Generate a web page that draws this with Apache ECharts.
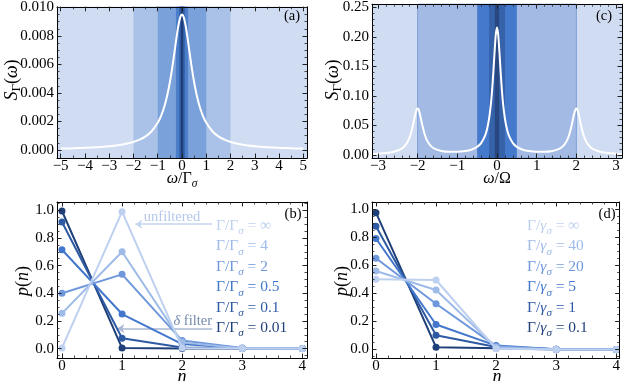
<!DOCTYPE html>
<html><head><meta charset="utf-8">
<script src="https://cdn.jsdelivr.net/npm/echarts@6/dist/echarts.min.js"></script>
<style>html,body{margin:0;padding:0;background:#fff}#c{width:623px;height:381px}</style>
</head><body><div id="c"></div>
<script>
// ---------------- data ----------------
// (a) filtered spectrum, omega / Gamma_sigma
const aX = [-5,-4.5,-4,-3.5,-3,-2.5,-2,-1.75,-1.5,-1.25,-1,-0.9,-0.8,-0.7,-0.6,-0.5,-0.4,-0.3,-0.25,-0.2,-0.15,-0.1,-0.05,0,0.05,0.1,0.15,0.2,0.25,0.3,0.4,0.5,0.6,0.7,0.8,0.9,1,1.25,1.5,1.75,2,2.5,3,3.5,4,4.5,5];
const aS = [0.000094,0.000116,0.000146,0.00019,0.000257,0.000365,0.000559,0.000717,0.00095,0.00131,0.0019,0.00224,0.00267,0.00321,0.00389,0.00475,0.00579,0.00699,0.0076,0.00819,0.00872,0.00913,0.00941,0.0095,0.00941,0.00913,0.00872,0.00819,0.0076,0.00699,0.00579,0.00475,0.00389,0.00321,0.00267,0.00224,0.0019,0.00131,0.00095,0.000717,0.000559,0.000365,0.000257,0.00019,0.000146,0.000116,0.000094];
const aBands = [2, 1, 0.25, 0.12, 0.05];          // half-widths of filter bands
// (c) Mollow-type spectrum, omega / Omega
const cX = [-3.14,-3.0,-2.8,-2.6,-2.45,-2.35,-2.25,-2.18,-2.12,-2.07,-2.03,-2.0,-1.97,-1.93,-1.88,-1.82,-1.75,-1.65,-1.55,-1.4,-1.2,-1.0,-0.8,-0.65,-0.5,-0.4,-0.3,-0.25,-0.2,-0.15,-0.12,-0.09,-0.06,-0.03,0,0.03,0.06,0.09,0.12,0.15,0.2,0.25,0.3,0.4,0.5,0.65,0.8,1.0,1.2,1.4,1.55,1.65,1.75,1.82,1.88,1.93,1.97,2.0,2.03,2.07,2.12,2.18,2.25,2.35,2.45,2.6,2.8,3.0,3.14];
const cS = [0.00186,0.00231,0.00335,0.00549,0.00894,0.01351,0.02244,0.03403,0.04964,0.06569,0.07611,0.07896,0.07616,0.06581,0.04985,0.03435,0.02289,0.01416,0.00981,0.00674,0.00531,0.00535,0.00664,0.00895,0.0138,0.0202,0.0328,0.0440,0.0614,0.0890,0.1128,0.1425,0.1756,0.2042,0.2159,0.2042,0.1756,0.1425,0.1128,0.0890,0.0614,0.0440,0.0328,0.0202,0.0138,0.00895,0.00664,0.00535,0.00531,0.00674,0.00981,0.01416,0.02289,0.03435,0.04985,0.06581,0.07616,0.07896,0.07611,0.06569,0.04964,0.03403,0.02244,0.01351,0.00894,0.00549,0.00335,0.00231,0.00186];
const cBands = [2, 0.5, 0.2, 0.055];
// (b) photon number distribution, Gamma/Gamma_sigma
const nValues = [0, 1, 2, 3, 4];
const bP001 = [0.995, 0.004, 0.0, 0.0, 0.0];
const bP01  = [0.915, 0.075, 0.008, 0.0, 0.0];
const bP05  = [0.715, 0.25, 0.033, 0.002, 0.0];
const bP2   = [0.40, 0.537, 0.058, 0.004, 0.0];
const bP4   = [0.255, 0.70, 0.045, 0.001, 0.0];
const bPinf = [0.005, 0.99, 0.004, 0.0, 0.0];
const bNames = ['0.01', '0.1', '0.5', '2', '4', '∞'];
// (d) photon number distribution, Gamma/gamma_sigma
const dP01  = [0.972, 0.017, 0.009, 0.0, 0.0];
const dP1   = [0.876, 0.102, 0.018, 0.002, 0.0];
const dP5   = [0.789, 0.178, 0.028, 0.003, 0.0];
const dP20  = [0.648, 0.325, 0.024, 0.002, 0.0];
const dP40  = [0.558, 0.423, 0.017, 0.001, 0.0];
const dPinf = [0.50, 0.494, 0.005, 0.0, 0.0];
const dNames = ['0.1', '1', '5', '20', '40', '∞'];
// annotation arrows in (b)
const unfilteredArrow = [[2.5, 0.9], [1.22, 0.9]];
const deltaArrow = [[2.5, 0.145], [0.92, 0.145]];
// tick labels
const aXTicks = [-5,-4,-3,-2,-1,0,1,2,3,4,5];
const aYTicks = [0,0.002,0.004,0.006,0.008,0.010];
const cXTicks = [-3,-2,-1,0,1,2,3];
const cYTicks = [0,0.05,0.10,0.15,0.20,0.25];
const nTicks = [0,1,2,3,4];
const pTicks = [0,0.2,0.4,0.6,0.8,1.0];

// ---------------- style ----------------
const F = "'Liberation Serif','DejaVu Serif',serif";
const blues = ['#1f3f78', '#2e5aa3', '#4277cc', '#6f98dc', '#9ebbe8', '#bed0ef']; // dark -> light
const aBandColors = ['#aac2e7', '#7ba1db', '#4c7ec9', '#3564ad', '#1f3e78'];
const cBandColors = ['#a3bbe4', '#4579cb', '#3662aa', '#284882'];
const bgLight = '#cfdcf1';

function range(a, b, s) { const r = []; for (let v = a; v <= b + s / 1000; v += s) r.push(+v.toFixed(6)); return r; }
function fmt(dec) { return v => (v < 0 ? '\u2212' : '') + Math.abs(v).toFixed(dec); }

function axisSet(dim, gi, min, max, major, minor, dec) {
  const base = {type: 'value', gridIndex: gi, min: min, max: max, z: 10, splitLine: {show: false}, axisPointer: {show: false}};
  const posA = dim === 'x' ? 'bottom' : 'left', posB = dim === 'x' ? 'top' : 'right';
  const line = {show: true, onZero: false, lineStyle: {color: '#000', width: 1}};
  const tMaj = {show: true, inside: true, length: 4.5, customValues: major, lineStyle: {color: '#222', width: 1}};
  const tMin = {show: true, inside: true, length: 2.5, customValues: minor, lineStyle: {color: '#222', width: 0.8}};
  return [
    Object.assign({}, base, {position: posA, axisLine: line, axisTick: tMaj,
      axisLabel: {show: true, customValues: major, formatter: fmt(dec), color: '#000', fontFamily: F, fontSize: 15, margin: dim === 'x' ? 0.5 : 3}}),
    Object.assign({}, base, {position: posB, axisLine: line, axisTick: tMaj, axisLabel: {show: false}}),
    Object.assign({}, base, {position: posA, axisLine: {show: false, onZero: false}, axisTick: tMin, axisLabel: {show: false}}),
    Object.assign({}, base, {position: posB, axisLine: {show: false, onZero: false}, axisTick: tMin, axisLabel: {show: false}})
  ];
}

const xAxes = [].concat(
  axisSet('x', 0, -5.15, 5.15, aXTicks, range(-5, 5, 0.5), 0),
  axisSet('x', 1, -3.15, 3.15, cXTicks, range(-3, 3, 0.2), 0),
  axisSet('x', 2, -0.083, 4.078, nTicks, range(0, 4, 0.2), 0),
  axisSet('x', 3, -0.066, 4.056, nTicks, range(0, 4, 0.2), 0)
);
const yAxes = [].concat(
  axisSet('y', 0, -0.00057, 0.01005, aYTicks, range(0, 0.01, 0.0005), 3),
  axisSet('y', 1, -0.0051, 0.2556, cYTicks, range(0, 0.25, 0.01), 2),
  axisSet('y', 2, -0.068, 1.06, pTicks, range(-0.05, 1.05, 0.05), 1),
  axisSet('y', 3, -0.06, 1.048, pTicks, range(-0.05, 1.05, 0.05), 1)
);

function bandAreas(bands, colors, edge) {
  return bands.map((w, i) => [
    {xAxis: -w, itemStyle: {color: colors[i], borderWidth: (edge && i === 0) ? 1 : 0, borderColor: '#7fa0d8'}},
    {xAxis: w}
  ]);
}
function zip(xs, ys) { return xs.map((x, i) => [x, ys[i]]); }

const series = [];
series.push({type: 'line', xAxisIndex: 0, yAxisIndex: 0, data: zip(aX, aS), showSymbol: false, smooth: 0.25,
  lineStyle: {color: '#fff', width: 2}, z: 3,
  markArea: {silent: true, z: 1, data: bandAreas(aBands, aBandColors, false)}});
series.push({type: 'line', xAxisIndex: 4, yAxisIndex: 4, data: zip(cX, cS), showSymbol: false, smooth: 0.2,
  lineStyle: {color: '#fff', width: 2}, z: 3,
  markArea: {silent: true, z: 1, data: bandAreas(cBands, cBandColors, true)}});

const bData = [bP001, bP01, bP05, bP2, bP4, bPinf];
const dData = [dP01, dP1, dP5, dP20, dP40, dPinf];
bData.forEach((arr, i) => {
  const s = {type: 'line', name: 'b' + bNames[i], xAxisIndex: 8, yAxisIndex: 8, data: zip(nValues, arr),
    symbol: 'circle', symbolSize: 7, showSymbol: true, lineStyle: {color: blues[i], width: 2},
    itemStyle: {color: blues[i]}, z: 3 + i};
  if (i === bData.length - 1) {
    s.markLine = {silent: true, symbol: ['none', 'arrow'], symbolSize: 7, label: {show: false}, z: 2,
      data: [
        [{coord: unfilteredArrow[0], lineStyle: {color: '#c5d6f1', width: 1.5, type: 'solid'}}, {coord: unfilteredArrow[1]}],
        [{coord: deltaArrow[0], lineStyle: {color: '#a9b8d3', width: 1.5, type: 'solid'}}, {coord: deltaArrow[1]}]
      ]};
  }
  series.push(s);
});
dData.forEach((arr, i) => {
  series.push({type: 'line', name: 'd' + dNames[i], xAxisIndex: 12, yAxisIndex: 12, data: zip(nValues, arr),
    symbol: 'circle', symbolSize: 7, showSymbol: true, lineStyle: {color: blues[i], width: 2},
    itemStyle: {color: blues[i]}, z: 3 + i});
});

// ---------------- texts ----------------
function rich(color, size) {
  return {
    r: {fontFamily: F, fontSize: size, fill: color, lineHeight: 22},
    i: {fontFamily: F, fontSize: size, fontStyle: 'italic', fill: color, lineHeight: 22},
    s: {fontFamily: F, fontSize: size * 0.72, fontStyle: 'italic', fill: color, lineHeight: 14, verticalAlign: 'bottom'},
    su: {fontFamily: F, fontSize: size * 0.72, fill: color, lineHeight: 14, verticalAlign: 'bottom'}
  };
}
function txt(x, y, text, color, size, align, rot) {
  return {type: 'text', x: x, y: y, rotation: rot || 0, z: 20, silent: true,
    style: {text: text, rich: rich(color, size), fill: color, align: align || 'center', verticalAlign: 'middle', fontFamily: F, fontSize: size}};
}
const graphics = [];
// axis titles
graphics.push(txt(182, 179, '{i|ω}{r|/Γ}{s|σ}', '#000', 16));
graphics.push(txt(12, 80, '{i|S}{su|Γ}{r|(}{i|ω}{r|)}', '#000', 18, 'center', Math.PI / 2));
graphics.push(txt(497, 179, '{i|ω}{r|/Ω}', '#000', 16));
graphics.push(txt(333, 80, '{i|S}{su|Γ}{r|(}{i|ω}{r|)}', '#000', 18, 'center', Math.PI / 2));
graphics.push(txt(23, 281, '{i|p}{r|(}{i|n}{r|)}', '#000', 18, 'center', Math.PI / 2));
graphics.push(txt(182, 377, '{i|n}', '#000', 18));
graphics.push(txt(342, 281, '{i|p}{r|(}{i|n}{r|)}', '#000', 18, 'center', Math.PI / 2));
graphics.push(txt(497, 377, '{i|n}', '#000', 18));
// panel tags
graphics.push(txt(292, 16, '{r|(a)}', '#000', 14.5));
graphics.push(txt(604, 16, '{r|(c)}', '#000', 14.5));
graphics.push(txt(293, 214, '{r|(b)}', '#000', 14.5));
graphics.push(txt(607, 214, '{r|(d)}', '#000', 14.5));
// legends (light on top)
for (let k = 0; k < 6; k++) {
  const i = 5 - k;
  graphics.push(txt(216, 226 + 20.4 * k, '{r|Γ/Γ}{s|σ}{r| = ' + bNames[i] + '}', blues[i], 15.5, 'left'));
  graphics.push(txt(527, 226 + 20.4 * k, '{r|Γ/}{i|γ}{s|σ}{r| = ' + dNames[i] + '}', blues[i], 15.5, 'left'));
}
// annotations in (b)
graphics.push(txt(172, 217, '{r|unfiltered}', '#b3c8eb', 14.5));
graphics.push(txt(212, 321, '{i|δ}{r| filter}', '#7389ad', 14.5, 'right'));

const chart = echarts.init(document.getElementById('c'), null, {renderer: 'canvas', width: 623, height: 381});
chart.setOption({
  animation: false,
  backgroundColor: '#fff',
  grid: [
    {left: 57, top: 4, width: 250, height: 154, show: true, backgroundColor: bgLight, borderWidth: 0},
    {left: 372, top: 4, width: 250, height: 154, show: true, backgroundColor: bgLight, borderWidth: 0},
    {left: 57, top: 202, width: 250, height: 156, show: false},
    {left: 372, top: 202, width: 250, height: 156, show: false}
  ],
  xAxis: xAxes,
  yAxis: yAxes,
  series: series,
  graphic: graphics
});
</script></body></html>
